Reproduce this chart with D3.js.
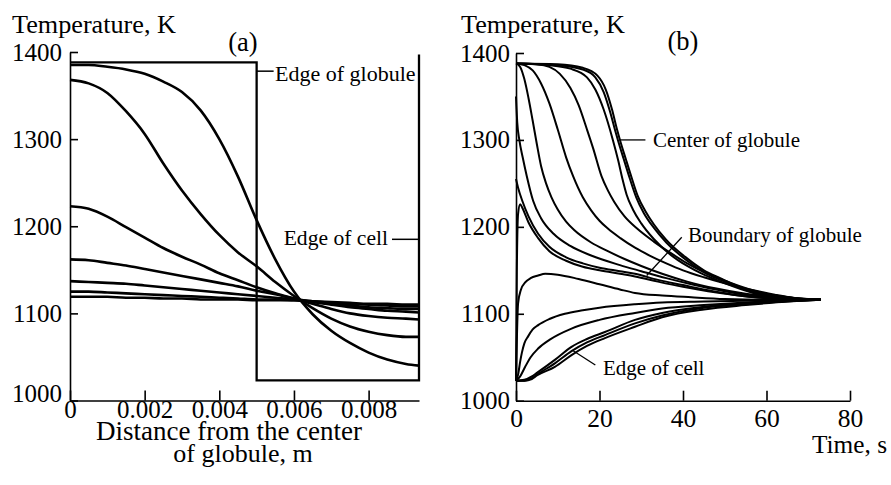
<!DOCTYPE html>
<html>
<head>
<meta charset="utf-8">
<script src="https://cdn.jsdelivr.net/npm/d3@7"></script>
<style>
  body { margin: 0; background: #fff; }
  svg { display: block; font-family: "Liberation Serif", "Times New Roman", serif; }
  .axis path, .axis line { stroke: #000; stroke-width: 1.6; }
  .axis text { fill: #000; }
  .curve { fill: none; stroke: #000; }
</style>
</head>
<body>
<svg width="891" height="485"></svg>
<script>
// ---- panel (a): temperature vs distance, one array per moment of time
var distA = [0, 0.0005, 0.001, 0.0015, 0.002, 0.0025, 0.003, 0.0035, 0.004, 0.0045,
             0.005, 0.0055, 0.006, 0.0065, 0.007, 0.0075, 0.008, 0.0085, 0.009, 0.00935];
var profA1 = [1385, 1385, 1383, 1380, 1375, 1366, 1354, 1333, 1300, 1257,
              1207, 1162, 1125, 1099, 1080, 1066, 1055, 1047, 1042, 1040];
var profA2 = [1368, 1364, 1353, 1332, 1306, 1272, 1241, 1214, 1190, 1170,
              1154, 1136, 1120, 1106, 1094, 1085, 1079, 1075, 1073, 1073];
var profA3 = [1223, 1220, 1211, 1199, 1187, 1175, 1165, 1156, 1146, 1138,
              1130, 1123, 1117, 1111, 1105, 1100, 1097, 1095, 1094, 1093];
var profA4 = [1162, 1161, 1158, 1155, 1151, 1147, 1143, 1139, 1135, 1131,
              1126, 1122, 1117, 1113, 1110, 1107, 1105, 1103, 1102, 1101];
var profA5 = [1137, 1136, 1135, 1134, 1132, 1130, 1128, 1126, 1124, 1122,
              1120, 1118, 1116, 1113, 1111, 1109, 1107, 1106, 1105, 1105];
var profA6 = [1125, 1125, 1124, 1123, 1122, 1121, 1120, 1119, 1118, 1117,
              1116, 1116, 1115, 1114, 1112, 1111, 1110, 1109, 1108, 1108];
var profA7 = [1119, 1119, 1119, 1118, 1118, 1117, 1117, 1116, 1116, 1116,
              1115, 1115, 1115, 1114, 1113, 1112, 1111, 1111, 1110, 1110];
// initial step profile (globule + cell)
var stepDist = [0, 0.005, 0.005, 0.00935, 0.00935];
var stepTemp = [1388, 1388, 1023, 1023, 1397];

var ticksA = [0, 0.002, 0.004, 0.006, 0.008];
var ticksB = [0, 20, 40, 60, 80];
var ticksT = [1000, 1100, 1200, 1300, 1400];

// ---- panel (b): temperature vs time, [t, T] for each radial point
var centreGlobule = [[0,1388],[10,1387],[16,1383],[19.5,1374],[21.5,1358],[23,1335],[24.2,1312],[24.9,1300],
  [26.3,1278],[27.8,1255],[29.2,1235],[31,1218],[33,1203],[36,1185],[40.9,1164],[45,1150],[48.9,1141],
  [52.5,1133],[56.8,1126],[62,1121],[67,1118],[73,1116]];
var innerE = [[0,1388],[10,1386],[16,1381],[19,1372],[21,1355],[22.5,1333],[23.8,1310],[24.4,1300],
  [25.8,1278],[27.3,1255],[28.8,1234],[30.6,1216],[33,1199],[36,1182],[41,1161],[45,1148],[49,1139],
  [56.8,1125],[62,1120],[67,1118],[73,1116]];
var innerD = [[0,1388],[8,1386],[13,1382],[17,1372],[19,1358],[21,1335],[23.2,1300],[24.5,1276],
  [25.5,1255],[26.5,1237],[28,1220],[30,1204],[33,1186],[37,1168],[41,1155],[45,1145],[49,1137],
  [56.8,1124],[62,1120],[67,1117],[73,1116]];
var innerG = [[0,1388],[5,1387],[8,1384],[10.5,1376],[13,1360],[15,1340],[17,1312],[18.5,1290],
  [20.5,1258],[22,1242],[23.5,1229],[26,1212],[29,1198],[33,1183],[37,1170],[41,1158],[45,1148],
  [50,1138],[56,1128],[62,1121],[67,1118],[73,1116]];
var innerB = [[0,1388],[2,1386],[4,1380],[6,1365],[8,1342],[10,1312],[12,1280],[13.7,1258],[16,1234],
  [18,1219],[20,1207],[22,1198],[25,1187],[28.5,1176],[32,1167],[36,1158],[40,1150],[45,1142],
  [50,1135],[56,1128],[62,1122],[67,1118],[73,1116]];
var innerA = [[0,1388],[1,1384],[2,1370],[3,1348],[4,1322],[5,1295],[6,1270],[7.2,1250],[8.5,1234],
  [10,1220],[12,1206],[14,1196],[18,1182],[22,1172],[26,1163],[30,1155],[35,1146],[41,1137],
  [48,1129],[55,1123],[63,1119],[73,1116]];
var nearBoundary = [[0,1350],[0.3,1320],[0.8,1300],[1.6,1280],[2.6,1258],[4.1,1230],[6,1210],[9,1192],
  [13,1178],[18,1167],[24.9,1156],[30,1149],[36,1141],[42,1134],[50,1126],[58,1120],[66,1117],[73,1116]];
var boundary = [[0,1255],[0.5,1245],[1.5,1230],[3,1212],[5.3,1192],[8,1177],[12,1165],[16,1158],
  [20,1153],[24.9,1149],[28.5,1146],[34,1139],[40,1133],[46,1127],[52,1122],[60,1118],[66,1117],[73,1116]];
var outer1 = [[0,1023],[0.2,1150],[0.5,1215],[1,1226],[1.5,1222],[3,1205],[5.3,1187],[8,1172],[12,1161],
  [16,1154],[20,1150],[24.9,1146],[28.5,1143],[34,1137],[40,1131],[46,1126],[52,1122],[60,1118],
  [66,1117],[73,1116]];
var outer2 = [[0,1023],[0.5,1112],[1.2,1128],[2.2,1136],[3.5,1141],[5.3,1144],[7,1146],[10,1145],
  [15,1140],[20,1134],[24.9,1128],[28.5,1124],[35,1121],[42,1119],[50,1117],[60,1116],[73,1116]];
var outer3 = [[0,1023],[0.5,1030],[1,1045],[1.4,1055],[2,1066],[2.9,1074],[4,1082],[5.3,1087],[8,1094],
  [11.7,1100],[16,1104],[20,1107],[28.5,1111],[35,1113],[45,1114],[55,1115],[73,1116]];
var outer4 = [[0,1023],[1,1028],[2.2,1039],[3.5,1050],[5.3,1060],[8,1070],[13.3,1083],[20,1093],
  [28.5,1101],[35,1106],[45,1110],[55,1113],[65,1115],[73,1116]];
var cellEdge1 = [[0,1023],[2,1024],[3.8,1028],[5,1032],[9.3,1047],[13.3,1062],[17,1071],[21.3,1079],
  [28.5,1093],[35,1101],[45,1108],[55,1112],[65,1115],[73,1116]];
var cellEdge2 = [[0,1023],[2,1023],[3.8,1026],[5,1030],[9.3,1043],[13.3,1057],[17,1067],[21.3,1075.5],
  [28.5,1089],[35,1098],[45,1107],[55,1111],[65,1114],[73,1116]];
var cellEdge3 = [[0,1023],[2,1023],[3.8,1025],[5,1029],[9.3,1039],[13.3,1052.5],[17,1063],[21.3,1072],
  [28.5,1085],[35,1096],[45,1105],[55,1110],[65,1114],[73,1116]];

var profilesA = [profA1, profA2, profA3, profA4, profA5, profA6, profA7];
var historiesB = [centreGlobule, innerE, innerD, innerG, innerB, innerA, nearBoundary, boundary,
                  outer1, outer2, outer3, outer4, cellEdge1, cellEdge2, cellEdge3];

var svg = d3.select("svg");
var serif = "'Liberation Serif', 'Times New Roman', serif";

var xA = d3.scaleLinear().domain([0, 0.00935]).range([70, 419]),
    yA = d3.scaleLinear().domain([1000, 1400]).range([400.5, 52]);
var xB = d3.scaleLinear().domain([0, 80]).range([516, 850]),
    yB = d3.scaleLinear().domain([1000, 1400]).range([400.7, 53]);

// ---------- panel (a)
var gA = svg.append("g");

var lineA = d3.line()
    .x(function (d) { return xA(d[0]); })
    .y(function (d) { return yA(d[1]); })
    .curve(d3.curveMonotoneX);

gA.append("path")
    .attr("class", "curve")
    .attr("stroke-width", 2.3)
    .attr("d", d3.line()
        .x(function (d) { return xA(d[0]); })
        .y(function (d) { return yA(d[1]); })(d3.zip(stepDist, stepTemp)));

gA.selectAll(".profile")
    .data(profilesA)
    .enter().append("path")
    .attr("class", "curve profile")
    .attr("stroke-width", 2.6)
    .attr("d", function (d) { return lineA(d3.zip(distA, d)); });

gA.append("g")
    .attr("class", "axis")
    .attr("transform", "translate(0," + yA(1000) + ")")
    .call(d3.axisBottom(xA).tickValues(ticksA).tickSizeInner(-10).tickSizeOuter(0).tickPadding(0)
        .tickFormat(function (d) { return d === 0 ? "0" : d3.format(".3f")(d); }))
    .attr("font-family", serif).attr("font-size", 25);

var yAxisA = gA.append("g")
    .attr("class", "axis")
    .attr("transform", "translate(" + xA(0) + ",0)")
    .call(d3.axisLeft(yA).tickValues(ticksT).tickSizeInner(-8).tickSizeOuter(0).tickPadding(8)
        .tickFormat(d3.format("d")))
    .attr("font-family", serif).attr("font-size", 25);

// in (a) the 1000 label sits a little above its tick
yAxisA.selectAll(".tick text")
    .filter(function (d) { return d === 1000; })
    .attr("y", -7);

// ---------- panel (b)
var gB = svg.append("g");

var lineB = d3.line()
    .x(function (d) { return xB(d[0]); })
    .y(function (d) { return yB(d[1]); })
    .curve(d3.curveMonotoneX);

gB.selectAll(".history")
    .data(historiesB)
    .enter().append("path")
    .attr("class", "curve history")
    .attr("stroke-width", 2)
    .attr("d", lineB);

gB.append("g")
    .attr("class", "axis")
    .attr("transform", "translate(0," + yB(1000) + ")")
    .call(d3.axisBottom(xB).tickValues(ticksB).tickSizeInner(-10).tickSizeOuter(0).tickPadding(8))
    .attr("font-family", serif).attr("font-size", 25.5);

gB.append("g")
    .attr("class", "axis")
    .attr("transform", "translate(" + xB(0) + ",0)")
    .call(d3.axisLeft(yB).tickValues(ticksT).tickSizeInner(-8).tickSizeOuter(0).tickPadding(6)
        .tickFormat(d3.format("d")))
    .attr("font-family", serif).attr("font-size", 25);

// ---------- titles and labels
function label(x, y, txt, size, anchor) {
    svg.append("text")
        .attr("x", x).attr("y", y)
        .attr("font-size", size)
        .attr("text-anchor", anchor || "start")
        .text(txt);
}

label(12, 33, "Temperature, K", 26.2);
label(243, 51, "(a)", 26.5, "middle");
label(461, 33, "Temperature, K", 26.2);
label(683, 50, "(b)", 26.5, "middle");

label(229, 440, "Distance from the center", 27, "middle");
label(243, 462, "of globule, m", 26, "middle");
label(812, 453, "Time, s", 25.3);

// panel (a) annotations
svg.append("line").attr("x1", xA(0.005)).attr("x2", xA(0.005) + 17)
    .attr("y1", yA(1378)).attr("y2", yA(1378)).attr("stroke", "#000").attr("stroke-width", 1.5);
label(275, yA(1378) + 10, "Edge of globule", 22);
svg.append("line").attr("x1", 392).attr("x2", xA(0.00935))
    .attr("y1", yA(1185)).attr("y2", yA(1185)).attr("stroke", "#000").attr("stroke-width", 1.5);
label(388, yA(1185) + 6, "Edge of cell", 21.6, "end");

// panel (b) annotations
svg.append("line").attr("x1", xB(24.9)).attr("x2", xB(31)).attr("y1", yB(1300)).attr("y2", yB(1300))
    .attr("stroke", "#000").attr("stroke-width", 1.3);
label(653, yB(1300) + 7.5, "Center of globule", 21);
svg.append("line").attr("x1", xB(31.3)).attr("x2", xB(39.7)).attr("y1", yB(1144)).attr("y2", yB(1188))
    .attr("stroke", "#000").attr("stroke-width", 1.3);
label(688, 241.5, "Boundary of globule", 21);
svg.append("line").attr("x1", xB(13.5)).attr("x2", xB(19)).attr("y1", yB(1058)).attr("y2", yB(1041))
    .attr("stroke", "#000").attr("stroke-width", 1.3);
label(603, 375, "Edge of cell", 21);
</script>
</body>
</html>
